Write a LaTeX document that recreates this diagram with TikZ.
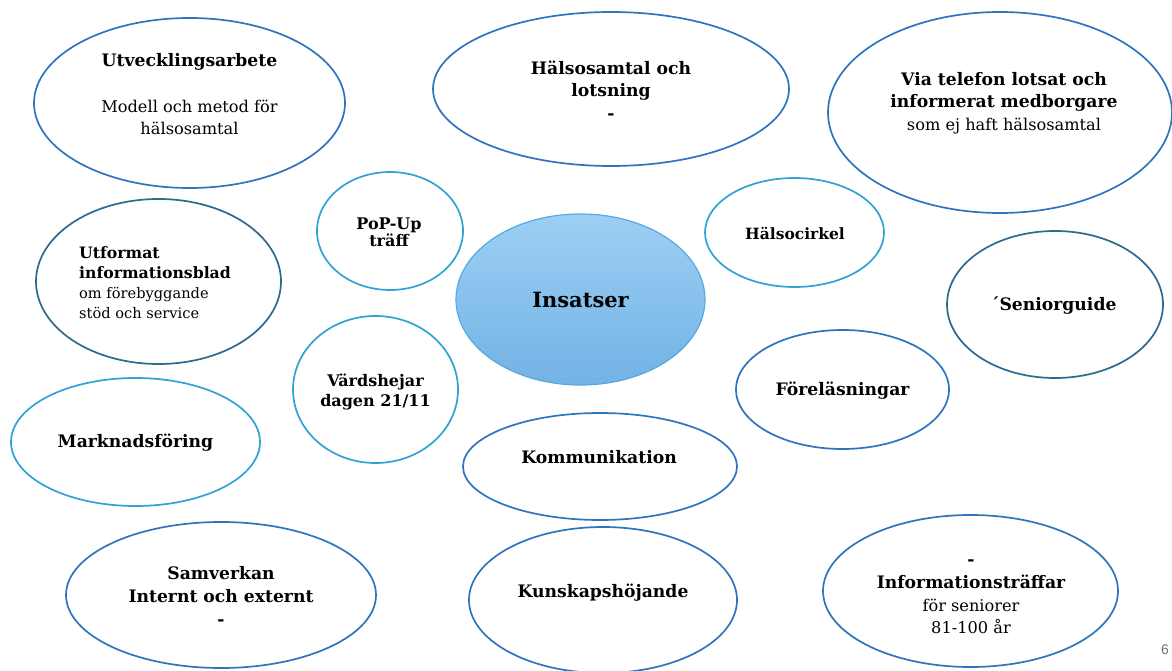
\documentclass[tikz,border=0pt]{standalone}
\usepackage{fontspec}
\setmainfont{DejaVu Serif}
\setsansfont{Liberation Sans}
\usetikzlibrary{shapes.geometric}
\definecolor{midblue}{HTML}{2E75BE}
\definecolor{lightblue}{HTML}{2FA3D6}
\definecolor{tealblue}{HTML}{2D6A8F}
\definecolor{coreTop}{HTML}{9DCFF4}
\definecolor{coreBot}{HTML}{72B2E5}
\definecolor{coreLine}{HTML}{5AA9DE}
\newcommand{\rg}{\fontsize{16.2}{22.5}\selectfont\mdseries}
\newcommand{\rgs}{\fontsize{14.6}{20}\selectfont\mdseries}
\tikzset{
  bubble/.style={ellipse, draw=midblue, line width=1.7pt, inner sep=0pt},
  bubbleL/.style={bubble, draw=lightblue},
  bubbleT/.style={bubble, draw=tealblue},
  esz/.style 2 args={minimum width=#1pt, minimum height=#2pt},
  lbl/.style={align=center, font=\fontsize{17.2}{22.6}\selectfont\bfseries, inner sep=0pt},
  lblM/.style={align=center, font=\fontsize{15.7}{20}\selectfont\bfseries, inner sep=0pt},
  lblS/.style={align=center, font=\fontsize{16}{17}\selectfont\bfseries, inner sep=0pt},
}
\begin{document}
\begin{tikzpicture}[x=1pt, y=-1pt]
\useasboundingbox (0,0) rectangle (1172,671);
\fill[white] (0,0) rectangle (1172,671);

% outer ring of bubbles
\node[bubble, esz={311}{170}] (utv) at (189.5,103) {};
\node[lbl] (utvT) at (189.5,62) {Utvecklingsarbete};
\node[lbl, font=\rg] (utvS) at (189.5,117.5) {Modell och metod för\\ hälsosamtal};

\node[bubble, esz={356}{154}] (hals) at (611,89) {};
\node[lbl] (halsT) at (611,90) {Hälsosamtal och\\ lotsning\\ -};

\node[bubble, esz={344}{201}] (tel) at (1000,112.5) {};
\node[lbl] (telT) at (1004,103) {Via telefon lotsat och\\ informerat medborgare\\ {\rg som ej haft hälsosamtal}};

\node[bubbleL, esz={146}{118}] (pop) at (390,231) {};
\node[lblS] (popT) at (389,232) {PoP-Up\\ träff};

\node[bubbleL, esz={179}{109}] (cirk) at (794.5,232.5) {};
\node[lblS, font=\fontsize{15.5}{18}\selectfont\bfseries] (cirkT) at (795,234) {Hälsocirkel};

\node[bubbleT, esz={245}{165}] (blad) at (158.5,281.5) {};
\node[lblM, align=left, anchor=west] (bladT) at (79,283) {Utformat\\ informationsblad\\ {\rgs om förebyggande}\\ {\rgs stöd och service}};

\node[ellipse, inner sep=0pt, draw=coreLine, line width=1.2pt, top color=coreTop, bottom color=coreBot, esz={249}{171}] (ins) at (580.5,299.5) {};
\node[align=center, inner sep=0pt, font=\fontsize{21}{24}\selectfont\bfseries] (insT) at (580.5,300) {Insatser};

\node[bubbleT, esz={216}{147}] (sen) at (1055,304.5) {};
\node[lbl] (senT) at (1055,306) {\'{}Seniorguide};

\node[bubbleL, esz={165}{147}] (vard) at (375.5,389.5) {};
\node[lblS, font=\fontsize{16}{20}\selectfont\bfseries] (vardT) at (375.5,392) {Värdshejar\\ dagen 21/11};

\node[bubble, esz={213}{119}] (forel) at (842.5,389.5) {};
\node[lbl] (forelT) at (842.5,391) {Föreläsningar};

\node[bubbleL, esz={249}{128}] (mark) at (135.5,442) {};
\node[lbl] (markT) at (135.5,443) {Marknadsföring};

\node[bubble, esz={274}{107}] (komm) at (600,466.5) {};
\node[lbl] (kommT) at (599,457) {Kommunikation};

\node[bubble, esz={310}{146}] (samv) at (221,595) {};
\node[lbl] (samvT) at (221,596) {Samverkan\\ Internt och externt\\ -};

\node[bubble, esz={268}{146}] (kun) at (603,600) {};
\node[lbl] (kunT) at (603,593) {Kunskapshöjande};

\node[bubble, esz={295}{152}] (traff) at (970.5,591) {};
\node[lbl] (traffT) at (971,597) {-\\ Informationsträffar\\ {\rg för seniorer}\\ {\rg 81-100 år}};

% page number
\node[font=\sffamily\fontsize{14}{16}\selectfont, text=black!55, inner sep=0pt] (pg) at (1165,650) {6};
\end{tikzpicture}
\end{document}
